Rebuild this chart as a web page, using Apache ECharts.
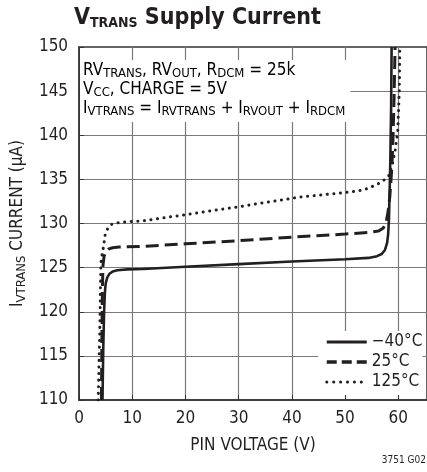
<!DOCTYPE html>
<html>
<head>
<meta charset="utf-8">
<script src="https://cdn.jsdelivr.net/npm/echarts@6/dist/echarts.min.js"></script>
<style>html,body{margin:0;padding:0;background:#fff}#c{width:427px;height:472px}</style>
</head>
<body>
<div id="c"></div>
<script>
// ---- data ----
const seriesNames = ['\u221240\u00b0C', '25\u00b0C', '125\u00b0C'];
const vM40 = [4.4, 4.55, 4.7, 4.85, 5.0, 5.3, 5.7, 6.3, 7.2, 9, 12, 20, 30, 40, 50, 54.4, 56.0, 56.9, 57.5, 57.9, 58.1, 58.25, 58.35, 58.5, 58.65, 58.75];
const iM40 = [110, 116, 120, 122.2, 123.2, 123.9, 124.3, 124.55, 124.7, 124.8, 124.85, 125.1, 125.4, 125.7, 125.95, 126.1, 126.3, 126.55, 127.0, 127.8, 128.8, 130.5, 133, 137, 143, 150];
const v25 = [4.2, 4.3, 4.4, 4.5, 4.7, 5.0, 5.5, 6.3, 7.5, 9, 12, 20, 30, 40, 50, 54.4, 56.3, 57.2, 57.7, 58.1, 58.4, 58.6, 58.8, 59.0, 59.2, 59.4];
const i25 = [110, 118, 123, 125.3, 126.3, 126.8, 127.1, 127.25, 127.33, 127.37, 127.4, 127.7, 128.05, 128.45, 128.8, 129.0, 129.15, 129.5, 130.1, 131.4, 133.0, 134.6, 136.5, 139.5, 144, 150];
const v125 = [3.6, 3.75, 3.9, 4.0, 4.1, 4.3, 4.6, 4.9, 5.5, 6.1, 7.0, 9, 12, 20, 30, 41.5, 50, 53.5, 55.1, 56.9, 58.2, 58.8, 59.4, 59.9, 60.2, 60.3];
const i125 = [110, 114, 118, 122, 125.5, 126.4, 127.4, 128.7, 129.6, 129.9, 130.05, 130.2, 130.3, 131.0, 131.9, 133.0, 133.5, 133.8, 134.2, 134.7, 135.4, 136.5, 138.2, 140.5, 145, 150];
const xMin = 0, xMax = 65.4, xStep = 10;
const yMin = 110, yMax = 150, yStep = 5;
const titleText = '{v|V}{s|TRANS}{v| Supply Current}';
const yName = '{m|I}{s|VTRANS}{m| CURRENT (\u00b5A)}';
const xName = 'PIN VOLTAGE (V)';
const noteLines = [
  '{m|RV}{s|TRANS}{m|, RV}{s|OUT}{m|, R}{s|DCM}{m| = 25k}',
  '{m|V}{s|CC}{m|, CHARGE = 5V}',
  '{m|I}{s|VTRANS}{m| = I}{s|RVTRANS}{m| + I}{s|RVOUT}{m| + I}{s|RDCM}'
];
const footText = '3751 G02';

// ---- styles ----
const FONT = '"Liberation Sans Narrow", "Arial Narrow", "DejaVu Sans Condensed", sans-serif';
const INK = '#231f20';
const GRID = '#7a7a7a';
const NOFILL = 'rgba(0,0,0,0)';
const hiddenSymbol = {color: NOFILL, borderColor: NOFILL, borderWidth: 0, opacity: 0};
const richSmall = {
  m: {fontSize: 17, lineHeight: 19, fontFamily: FONT, color: INK},
  s: {fontSize: 13, lineHeight: 12, padding: [7, 0, 0, 0], fontFamily: FONT, color: INK}
};
const pairs = (xs, ys) => xs.map((x, k) => [x, ys[k]]);

const chart = echarts.init(document.getElementById('c'), null, {renderer: 'canvas'});
chart.setOption({
  animation: false,
  backgroundColor: '#fff',
  title: {
    text: titleText, left: 74, top: 5, padding: 0,
    textStyle: {
      rich: {
        v: {fontSize: 23, fontWeight: 'bold', lineHeight: 26, fontFamily: FONT, color: INK},
        s: {fontSize: 14, fontWeight: 'bold', lineHeight: 15, padding: [10, 0, 0, 0], fontFamily: FONT, color: INK}
      }
    }
  },
  grid: {left: 76, top: 47, width: 353.2, height: 353, show: true, borderColor: '#333', borderWidth: 1.5},
  xAxis: {
    type: 'value', min: xMin, max: xMax, interval: xStep,
    name: xName, nameLocation: 'middle', nameGap: 36,
    nameTextStyle: {fontSize: 17, lineHeight: 19, fontFamily: FONT, color: INK},
    axisLine: {show: true, lineStyle: {color: '#333', width: 1.5}},
    axisTick: {show: true, inside: true, length: 5, lineStyle: {color: '#333'}},
    axisLabel: {fontSize: 17, lineHeight: 17, margin: 10, fontFamily: FONT, color: INK, showMaxLabel: false},
    splitLine: {show: true, showMinLine: false, showMaxLine: false, lineStyle: {color: GRID, width: 1.2}}
  },
  yAxis: {
    type: 'value', min: yMin, max: yMax, interval: yStep,
    name: yName, nameLocation: 'middle', nameRotate: 90, nameGap: 46,
    nameTextStyle: {rich: richSmall},
    axisLine: {show: true, lineStyle: {color: '#333', width: 1.5}},
    axisTick: {show: true, inside: true, length: 5, lineStyle: {color: '#333'}},
    axisLabel: {fontSize: 17, margin: 11, fontFamily: FONT, color: INK},
    splitLine: {show: true, showMinLine: false, showMaxLine: false, lineStyle: {color: GRID, width: 1.2}}
  },
  legend: {
    orient: 'vertical', left: 318, top: 331,
    padding: [2, 0, 4, 7], itemWidth: 40, itemHeight: 14, itemGap: 2,
    backgroundColor: '#fff',
    textStyle: {fontSize: 17, lineHeight: 18, fontFamily: FONT, color: INK},
    data: [
      {name: seriesNames[0], lineStyle: {width: 3}, itemStyle: hiddenSymbol},
      {name: seriesNames[1], lineStyle: {type: [10, 5], width: 3.5}, itemStyle: hiddenSymbol},
      {name: seriesNames[2], lineStyle: {type: [0.1, 6.8], width: 3, cap: 'round'}, itemStyle: hiddenSymbol}
    ]
  },
  graphic: [
    {
      type: 'text', left: 80, top: 60, z: 1,
      style: {
        text: noteLines.join('\n'), rich: richSmall,
        backgroundColor: '#fff', padding: [1, 5, 4, 3]
      }
    },
    {
      type: 'text', right: 1, top: 455,
      style: {text: footText, fontSize: 10, fontFamily: FONT, fill: INK}
    }
  ],
  series: [
    {
      name: seriesNames[0], type: 'line', data: pairs(vM40, iM40), symbol: 'none',
      lineStyle: {color: INK, width: 2.6}, itemStyle: {color: INK}
    },
    {
      name: seriesNames[1], type: 'line', data: pairs(v25, i25), symbol: 'none',
      lineStyle: {color: INK, width: 3, type: [13, 6]}, itemStyle: {color: INK}
    },
    {
      name: seriesNames[2], type: 'line', data: pairs(v125, i125), symbol: 'none',
      lineStyle: {color: INK, width: 3, type: [0.1, 6.5], cap: 'round'}, itemStyle: {color: INK}
    }
  ]
});
</script>
</body>
</html>
